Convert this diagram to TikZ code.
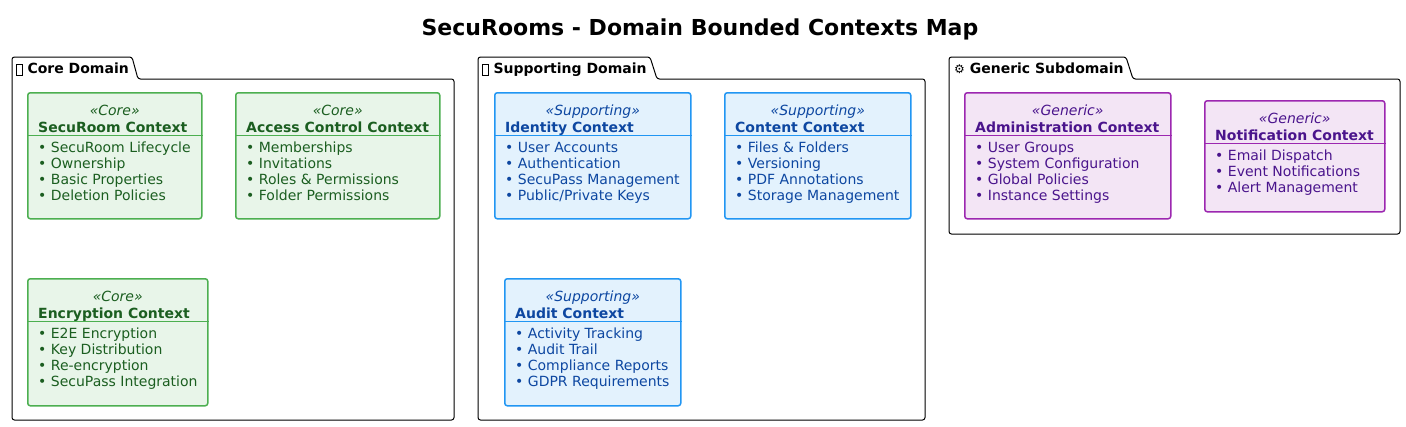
\documentclass[tikz,border=0pt]{standalone}
\usepackage{fontspec}
\setmainfont{DejaVu Sans}
\usetikzlibrary{calc}
\definecolor{coreFill}{HTML}{E8F5E9}
\definecolor{coreLine}{HTML}{4CAF50}
\definecolor{coreText}{HTML}{1B5E20}
\definecolor{suppFill}{HTML}{E3F2FD}
\definecolor{suppLine}{HTML}{2196F3}
\definecolor{suppText}{HTML}{0D47A1}
\definecolor{genFill}{HTML}{F3E5F5}
\definecolor{genLine}{HTML}{9C27B0}
\definecolor{genText}{HTML}{4A148C}
\newcommand{\missingglyph}{{\setlength{\fboxsep}{0pt}\setlength{\fboxrule}{0.5pt}\raisebox{-2pt}{\fbox{\rule{0pt}{10.5pt}\hspace{5.5pt}}}}}
\begin{document}
\begin{tikzpicture}[x=1pt,y=-1pt,
        pkg/.style={draw=black,line width=1pt,rounded corners=2.5pt,fill=white},
        pkglabel/.style={anchor=base west,inner sep=0pt,font=\fontsize{14}{16}\selectfont\bfseries},
        ctx/.style={draw,line width=1.5pt,rounded corners=2.5pt,anchor=north west,inner sep=0pt},
        corebox/.style={ctx,draw=coreLine,fill=coreFill},
        suppbox/.style={ctx,draw=suppLine,fill=suppFill},
        genbox/.style={ctx,draw=genLine,fill=genFill},
        stereo/.style={anchor=base,inner sep=0pt,font=\fontsize{14}{16}\selectfont\itshape},
        ctxname/.style={anchor=base west,inner sep=0pt,font=\fontsize{14}{16}\selectfont\bfseries},
        item/.style={anchor=base west,inner sep=0pt,font=\fontsize{14}{16}\selectfont},
        sep/.style={line width=1pt}]
    \useasboundingbox (0,0) rectangle (1406,426);
    \node[anchor=base,inner sep=0pt,font=\fontsize{22}{26}\selectfont\bfseries] (title) at (700,35) {SecuRooms - Domain Bounded Contexts Map};

    \draw[pkg] (12,79) -- (12,57) -- (132,57) -- (138,79) -- (454,79) -- (454,420) -- (12,420) -- cycle;
    \node[pkglabel] (corelbl) at (16,73) {\missingglyph\ Core Domain};
    \draw[pkg] (478,79) -- (478,57) -- (650,57) -- (657,79) -- (925,79) -- (925,420) -- (478,420) -- cycle;
    \node[pkglabel] (supplbl) at (482,73) {\missingglyph\ Supporting Domain};
    \draw[pkg] (949,79) -- (949,57) -- (1126,57) -- (1133,79) -- (1400,79) -- (1400,234) -- (949,234) -- cycle;
    \node[pkglabel] (genlbl) at (954,73) {{\mdseries\fontsize{12}{14}\selectfont ⚙}\ Generic Subdomain};

    \node[corebox,minimum width=174pt,minimum height=126pt] (securoom) at (27,92) {};
    \node[stereo,text=coreText] (securoom-st) at ($(securoom.north)+(0,23)$) {«Core»};
    \node[ctxname,text=coreText] (securoom-nm) at ($(securoom.north west)+(11,40)$) {SecuRoom Context};
    \draw[sep,coreLine] ($(securoom.north west)+(0,43)$) -- ($(securoom.north east)+(0,43)$);
    \foreach \t [count=\i] in {SecuRoom Lifecycle,Ownership,Basic Properties,Deletion Policies}
        \node[item,text=coreText] (securoom-\i) at ($(securoom.north west)+(11,{60+16.3*(\i-1)})$) {• \t};

    \node[corebox,minimum width=204pt,minimum height=126pt] (access) at (235,92) {};
    \node[stereo,text=coreText] (access-st) at ($(access.north)+(0,23)$) {«Core»};
    \node[ctxname,text=coreText] (access-nm) at ($(access.north west)+(11,40)$) {Access Control Context};
    \draw[sep,coreLine] ($(access.north west)+(0,43)$) -- ($(access.north east)+(0,43)$);
    \foreach \t [count=\i] in {Memberships,Invitations,Roles \& Permissions,Folder Permissions}
        \node[item,text=coreText] (access-\i) at ($(access.north west)+(11,{60+16.3*(\i-1)})$) {• \t};

    \node[corebox,minimum width=180pt,minimum height=127pt] (encryption) at (27,278) {};
    \node[stereo,text=coreText] (encryption-st) at ($(encryption.north)+(0,23)$) {«Core»};
    \node[ctxname,text=coreText] (encryption-nm) at ($(encryption.north west)+(11,40)$) {Encryption Context};
    \draw[sep,coreLine] ($(encryption.north west)+(0,43)$) -- ($(encryption.north east)+(0,43)$);
    \foreach \t [count=\i] in {E2E Encryption,Key Distribution,Re-encryption,SecuPass Integration}
        \node[item,text=coreText] (encryption-\i) at ($(encryption.north west)+(11,{60+16.3*(\i-1)})$) {• \t};

    \node[suppbox,minimum width=196pt,minimum height=126pt] (identity) at (494,92) {};
    \node[stereo,text=suppText] (identity-st) at ($(identity.north)+(0,23)$) {«Supporting»};
    \node[ctxname,text=suppText] (identity-nm) at ($(identity.north west)+(11,40)$) {Identity Context};
    \draw[sep,suppLine] ($(identity.north west)+(0,43)$) -- ($(identity.north east)+(0,43)$);
    \foreach \t [count=\i] in {User Accounts,Authentication,SecuPass Management,Public/Private Keys}
        \node[item,text=suppText] (identity-\i) at ($(identity.north west)+(11,{60+16.3*(\i-1)})$) {• \t};

    \node[suppbox,minimum width=186pt,minimum height=126pt] (content) at (724,92) {};
    \node[stereo,text=suppText] (content-st) at ($(content.north)+(0,23)$) {«Supporting»};
    \node[ctxname,text=suppText] (content-nm) at ($(content.north west)+(11,40)$) {Content Context};
    \draw[sep,suppLine] ($(content.north west)+(0,43)$) -- ($(content.north east)+(0,43)$);
    \foreach \t [count=\i] in {Files \& Folders,Versioning,PDF Annotations,Storage Management}
        \node[item,text=suppText] (content-\i) at ($(content.north west)+(11,{60+16.3*(\i-1)})$) {• \t};

    \node[suppbox,minimum width=176pt,minimum height=127pt] (audit) at (504,278) {};
    \node[stereo,text=suppText] (audit-st) at ($(audit.north)+(0,23)$) {«Supporting»};
    \node[ctxname,text=suppText] (audit-nm) at ($(audit.north west)+(11,40)$) {Audit Context};
    \draw[sep,suppLine] ($(audit.north west)+(0,43)$) -- ($(audit.north east)+(0,43)$);
    \foreach \t [count=\i] in {Activity Tracking,Audit Trail,Compliance Reports,GDPR Requirements}
        \node[item,text=suppText] (audit-\i) at ($(audit.north west)+(11,{60+16.3*(\i-1)})$) {• \t};

    \node[genbox,minimum width=206pt,minimum height=126pt] (admin) at (964,92) {};
    \node[stereo,text=genText] (admin-st) at ($(admin.north)+(0,23)$) {«Generic»};
    \node[ctxname,text=genText] (admin-nm) at ($(admin.north west)+(11,40)$) {Administration Context};
    \draw[sep,genLine] ($(admin.north west)+(0,43)$) -- ($(admin.north east)+(0,43)$);
    \foreach \t [count=\i] in {User Groups,System Configuration,Global Policies,Instance Settings}
        \node[item,text=genText] (admin-\i) at ($(admin.north west)+(11,{60+16.3*(\i-1)})$) {• \t};

    \node[genbox,minimum width=180pt,minimum height=111pt] (notification) at (1204,100) {};
    \node[stereo,text=genText] (notification-st) at ($(notification.north)+(0,23)$) {«Generic»};
    \node[ctxname,text=genText] (notification-nm) at ($(notification.north west)+(11,40)$) {Notification Context};
    \draw[sep,genLine] ($(notification.north west)+(0,43)$) -- ($(notification.north east)+(0,43)$);
    \foreach \t [count=\i] in {Email Dispatch,Event Notifications,Alert Management}
        \node[item,text=genText] (notification-\i) at ($(notification.north west)+(11,{60+16.3*(\i-1)})$) {• \t};
\end{tikzpicture}
\end{document}
